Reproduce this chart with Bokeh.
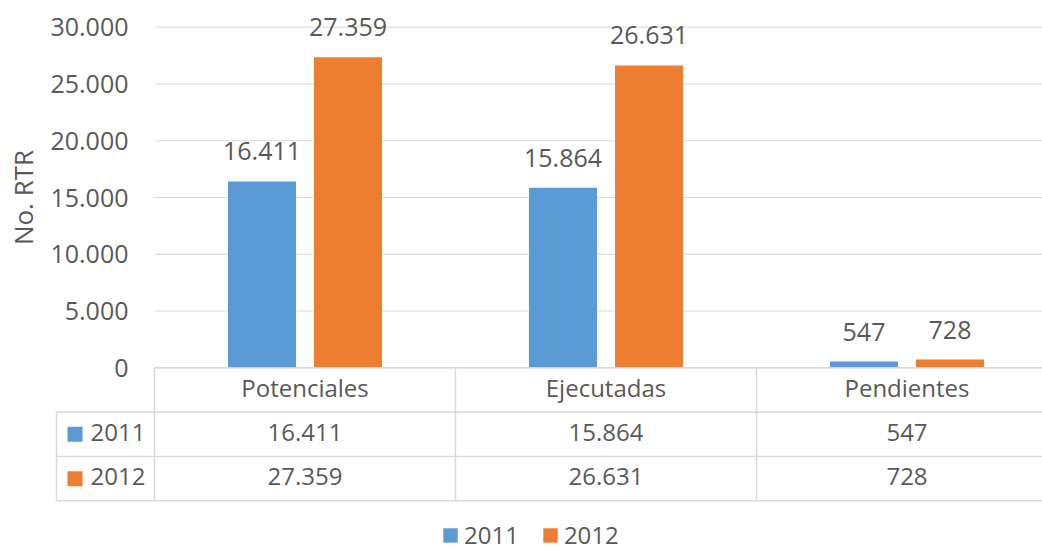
import math
from bokeh.plotting import figure
from bokeh.models import (Range1d, FixedTicker, LinearAxis, Label, Legend,
                          LegendItem, ColumnDataSource)
from bokeh.transform import dodge
from bokeh.core.properties import value
from bokeh.embed import file_html
from bokeh.resources import INLINE

# ---------------- data ----------------
categories = ["Potenciales", "Ejecutadas", "Pendientes"]
series_names = ["2011", "2012"]
values_2011 = [16411, 15864, 547]
values_2012 = [27359, 26631, 728]
y_ticks = [0, 5000, 10000, 15000, 20000, 25000, 30000]
y_tick_labels = ["0", "5.000", "10.000", "15.000", "20.000", "25.000", "30.000"]
y_axis_title = "No. RTR"

# ---------------- style / layout ----------------
colors = ["#5b9bd5", "#ed7d31"]
TEXT = "#595959"
GRID = "#d9d9d9"
FONT = "Open Sans"
FS = "24px"
FS_NUM = "25px"

W, H = 1042, 551
CAT0 = 154               # canvas x of category block start
PX_CAT = 301.0
ZERO_Y = 367.3           # canvas y of value 0
PX_UNIT = 340.6 / 30000
ROW_PX = 44.33
LEFTCOL = 56             # canvas x of table's left column edge
SQUARE_X = 74.5          # canvas x of row-header squares
ROWLABEL_X = 90          # canvas x of row-header labels
BAR_W = 68 / PX_CAT
BAR_OFF = 43 / PX_CAT


def fmt(v):
    return f"{v:,}".replace(",", ".")


def cx(canvas_x):
    return (canvas_x - CAT0) / PX_CAT


x_range = Range1d(cx(0), cx(W))
y_range = Range1d(-(H - ZERO_Y) / PX_UNIT, ZERO_Y / PX_UNIT)

p = figure(width=W, height=H, x_range=x_range, y_range=y_range,
           output_backend="svg", toolbar_location=None,
           x_axis_location=None, y_axis_location=None,
           min_border_left=0, min_border_right=0,
           min_border_top=0, min_border_bottom=0,
           outline_line_color=None, background_fill_color="white",
           border_fill_color="white")
p.xgrid.visible = False
p.ygrid.visible = False
p.extra_y_ranges = {"table": Range1d(-(H - ZERO_Y) / ROW_PX, ZERO_Y / ROW_PX)}

n = len(categories)
cat_x = [i + 0.5 for i in range(n)]

# gridlines at tick values
p.segment(x0=0, x1=n, y0=y_ticks, y1=y_ticks, line_color=GRID, line_width=1)

src = ColumnDataSource(dict(
    cat_x=cat_x, v2011=values_2011, v2012=values_2012,
    l2011=[fmt(v) for v in values_2011], l2012=[fmt(v) for v in values_2012]))

r1 = p.vbar(x=dodge("cat_x", -BAR_OFF), top="v2011", bottom=0, width=BAR_W,
            source=src, fill_color=colors[0], line_color=None)
r2 = p.vbar(x=dodge("cat_x", BAR_OFF), top="v2012", bottom=0, width=BAR_W,
            source=src, fill_color=colors[1], line_color=None)

for off, vcol, lcol in [(-BAR_OFF, "v2011", "l2011"), (BAR_OFF, "v2012", "l2012")]:
    p.text(x=dodge("cat_x", off), y=vcol, text=lcol, source=src,
           text_align="center", text_baseline="alphabetic", y_offset=-30,
           text_font=value(FONT), text_font_size=FS_NUM, text_color=TEXT)

# y axis
ax = LinearAxis(fixed_location=0, ticker=FixedTicker(ticks=y_ticks),
                major_label_overrides={t: l for t, l in zip(y_ticks, y_tick_labels)},
                axis_line_color=None, major_tick_line_color=None,
                minor_tick_line_color=None, major_tick_in=0, major_tick_out=0,
                major_label_standoff=26, major_label_text_font=FONT,
                major_label_text_font_size=FS_NUM, major_label_text_color=TEXT)
p.add_layout(ax, "left")

p.add_layout(Label(x=22, y=15000, x_units="screen", y_units="data",
                   text=y_axis_title, angle=math.pi / 2, text_align="center",
                   text_baseline="middle", text_font=FONT,
                   text_font_size="26px", text_color=TEXT))

# ---------------- data table ----------------
ns = len(series_names)
lx = cx(LEFTCOL)
# horizontal lines
hy = [0] + [-(j + 1) for j in range(ns + 1)]
hx0 = [0] + [lx] * (ns + 1)
p.segment(x0=hx0, x1=[n] * len(hy), y0=hy, y1=hy, y_range_name="table",
          line_color=GRID, line_width=1.5)
# vertical lines
vx = list(range(n + 1)) + [lx]
vy0 = [0] * (n + 1) + [-1]
p.segment(x0=vx, x1=vx, y0=vy0, y1=[-(ns + 1)] * len(vx), y_range_name="table",
          line_color=GRID, line_width=1.5)

p.text(x=cat_x, y=[-0.5] * n, text=categories, y_range_name="table",
       text_align="center", text_baseline="middle", y_offset=-2,
       text_font=value(FONT), text_font_size=FS, text_color=TEXT)

for j, vals in enumerate([values_2011, values_2012]):
    p.text(x=cat_x, y=[-(j + 1.5)] * n, text=[fmt(v) for v in vals],
           y_range_name="table", text_align="center", text_baseline="middle",
           y_offset=-2, text_font=value(FONT), text_font_size=FS,
           text_color=TEXT)

row_y = [-(j + 1.5) for j in range(ns)]
p.scatter(x=[cx(SQUARE_X)] * ns, y=row_y, marker="square", size=15,
          fill_color=colors[:ns], line_color=None, y_range_name="table")
p.text(x=[cx(ROWLABEL_X)] * ns, y=row_y, text=series_names, y_range_name="table",
       text_align="left", text_baseline="middle", y_offset=-2,
       text_font=value(FONT), text_font_size=FS, text_color=TEXT)

# ---------------- legend ----------------
legend = Legend(items=[LegendItem(label=series_names[0], renderers=[r1]),
                       LegendItem(label=series_names[1], renderers=[r2])],
                orientation="horizontal", location=(441, 0),
                glyph_width=18, glyph_height=18, label_standoff=5, spacing=22,
                padding=0, margin=0, border_line_color=None,
                background_fill_alpha=0, label_text_font=FONT,
                label_text_font_size=FS, label_text_color=TEXT)
p.add_layout(legend)

open("out.html", "w").write(file_html(p, INLINE))
